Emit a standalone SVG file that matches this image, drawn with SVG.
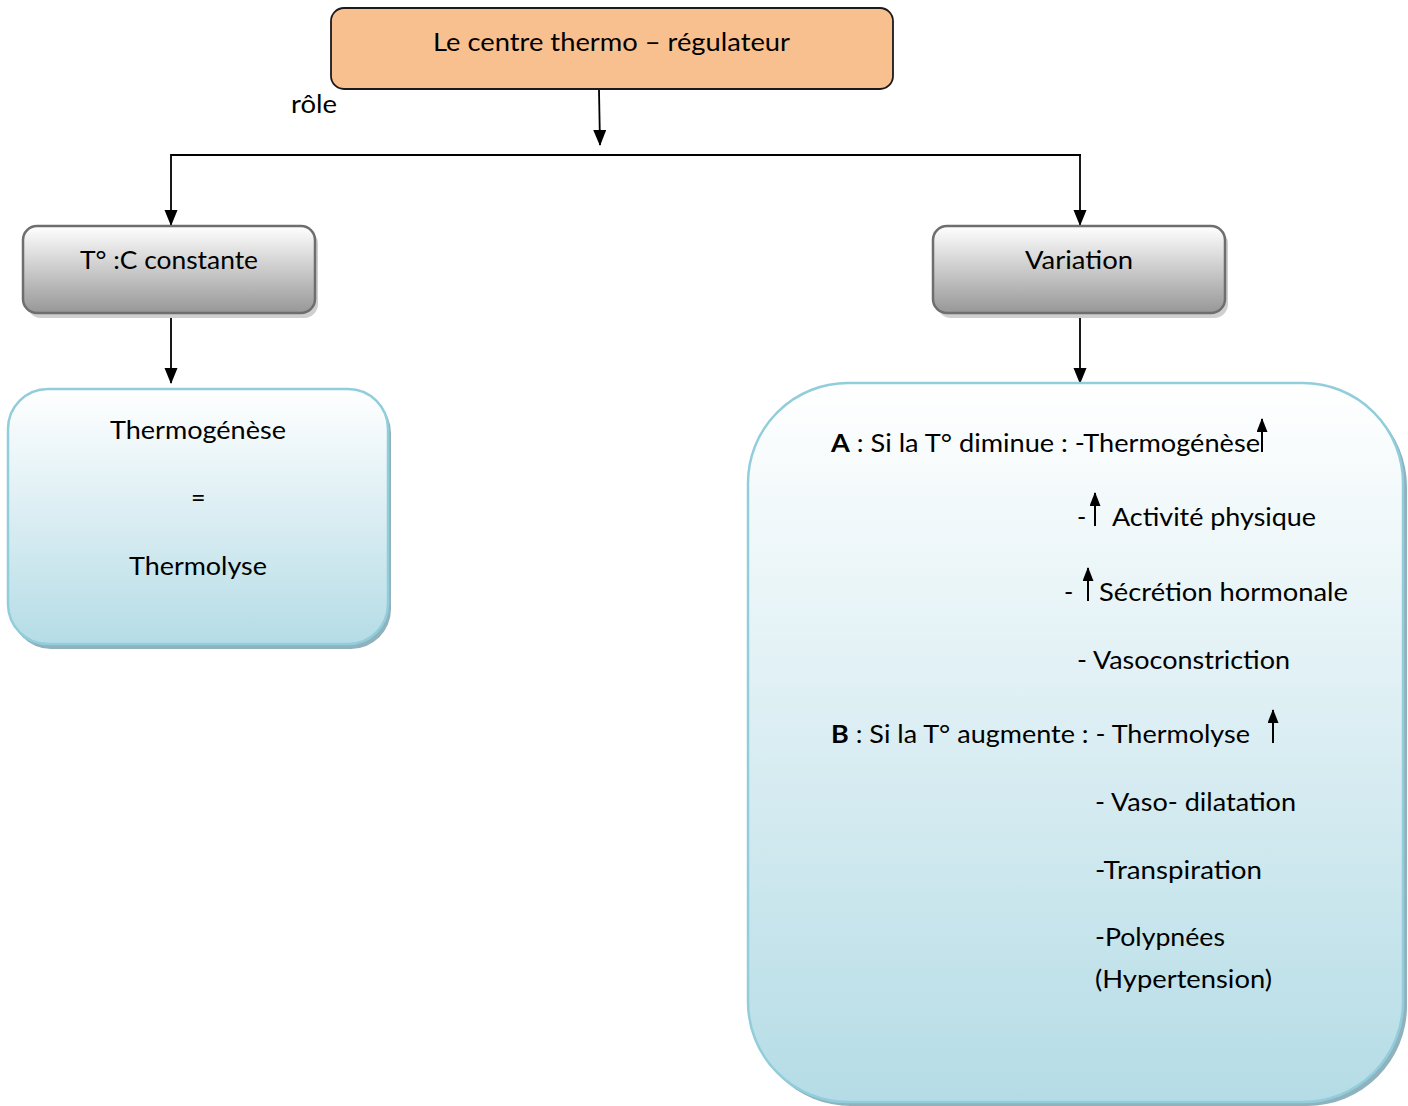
<svg xmlns="http://www.w3.org/2000/svg" width="1408" height="1106" viewBox="0 0 1408 1106">
<defs>
<linearGradient id="gray" x1="0" y1="0" x2="0" y2="1">
<stop offset="0" stop-color="#ffffff"/>
<stop offset="1" stop-color="#979797"/>
</linearGradient>
<linearGradient id="blue" x1="0" y1="0" x2="0" y2="1">
<stop offset="0" stop-color="#ffffff"/>
<stop offset="1" stop-color="#b5dce6"/>
</linearGradient>
<marker id="arr" markerUnits="userSpaceOnUse" markerWidth="16" markerHeight="14" refX="15" refY="6.5" orient="auto">
<path d="M0,0 L16,6.5 L0,13 Z" fill="#000"/>
</marker>
<marker id="up" markerUnits="userSpaceOnUse" markerWidth="14" markerHeight="12" refX="13" refY="5.5" orient="auto">
<path d="M0,0 L14,5.5 L0,11 Z" fill="#000"/>
</marker>
</defs>
<style>
text{font-family:Lato,"Open Sans","Liberation Sans",sans-serif;font-size:25px;fill:#000}
.c{stroke:#000;stroke-width:1.8;fill:none}
.g{fill:url(#gray);stroke:#6e6e6e;stroke-width:2.5}
.gs{fill:#cfcfcf}
.b{fill:url(#blue);stroke:#92cddc;stroke-width:2.5}
.bs{fill:#8fb2bd}
.ua{stroke:#000;stroke-width:2;fill:none}
</style>
<rect width="1408" height="1106" fill="#fff"/>

<g id="connectors">
<path class="c" d="M599,90 L600,145" marker-end="url(#arr)"/>
<path class="c" d="M1081,155 L171,155 L171,225" marker-end="url(#arr)"/>
<path class="c" d="M1080,155 L1080,225" marker-end="url(#arr)"/>
<path class="c" d="M171,313 L171,383" marker-end="url(#arr)"/>
<path class="c" d="M1080,313 L1080,383" marker-end="url(#arr)"/>
<text x="291" y="113" textLength="46" lengthAdjust="spacingAndGlyphs">rôle</text>
</g>

<g id="top">
<rect x="331" y="8" width="562" height="81" rx="13" fill="#f8c08f" stroke="#1a1a1a" stroke-width="1.8"/>
<text x="433" y="51" textLength="357" lengthAdjust="spacingAndGlyphs">Le centre thermo – régulateur</text>
</g>

<g id="constante">
<rect class="gs" x="27" y="230" width="291" height="88" rx="14"/>
<rect class="g" x="23" y="226" width="292" height="87" rx="14"/>
<text x="80" y="269" textLength="178" lengthAdjust="spacingAndGlyphs">T° :C constante</text>
</g>

<g id="variation">
<rect class="gs" x="937" y="230" width="291" height="88" rx="14"/>
<rect class="g" x="933" y="226" width="292" height="87" rx="14"/>
<text x="1025" y="269" textLength="108" lengthAdjust="spacingAndGlyphs">Variation</text>
</g>

<g id="equilibre">
<rect class="bs" x="11" y="393" width="380" height="256" rx="40"/>
<rect class="b" x="8" y="389" width="380" height="255" rx="40"/>
<text x="110" y="439" textLength="176" lengthAdjust="spacingAndGlyphs">Thermogénèse</text>
<text x="191" y="507" font-size="27">=</text>
<text x="129" y="575" textLength="138" lengthAdjust="spacingAndGlyphs">Thermolyse</text>
</g>

<g id="reponses">
<rect class="bs" x="751" y="387" width="656" height="719" rx="100"/>
<rect class="b" x="748" y="383" width="655" height="719" rx="100"/>
<text x="831" y="452" textLength="429" lengthAdjust="spacingAndGlyphs"><tspan font-weight="bold">A</tspan> : Si la T° diminue : -Thermogénèse</text>
<path class="ua" d="M1262,452 L1262,419" marker-end="url(#up)"/>
<text x="1077" y="526">-</text>
<path class="ua" d="M1095,526 L1095,493" marker-end="url(#up)"/>
<text x="1112" y="526" textLength="204" lengthAdjust="spacingAndGlyphs">Activité physique</text>
<text x="1064" y="601">-</text>
<path class="ua" d="M1088,601 L1088,568" marker-end="url(#up)"/>
<text x="1099" y="601" textLength="249" lengthAdjust="spacingAndGlyphs">Sécrétion hormonale</text>
<text x="1077" y="669" textLength="213" lengthAdjust="spacingAndGlyphs">- Vasoconstriction</text>
<text x="831" y="743" textLength="419" lengthAdjust="spacingAndGlyphs"><tspan font-weight="bold">B</tspan> : Si la T° augmente : - Thermolyse</text>
<path class="ua" d="M1273,743 L1273,710" marker-end="url(#up)"/>
<text x="1095" y="811" textLength="201" lengthAdjust="spacingAndGlyphs">- Vaso- dilatation</text>
<text x="1095" y="879" textLength="167" lengthAdjust="spacingAndGlyphs">-Transpiration</text>
<text x="1095" y="946" textLength="130" lengthAdjust="spacingAndGlyphs">-Polypnées</text>
<text x="1095" y="988" textLength="177" lengthAdjust="spacingAndGlyphs">(Hypertension)</text>
</g>
</svg>
